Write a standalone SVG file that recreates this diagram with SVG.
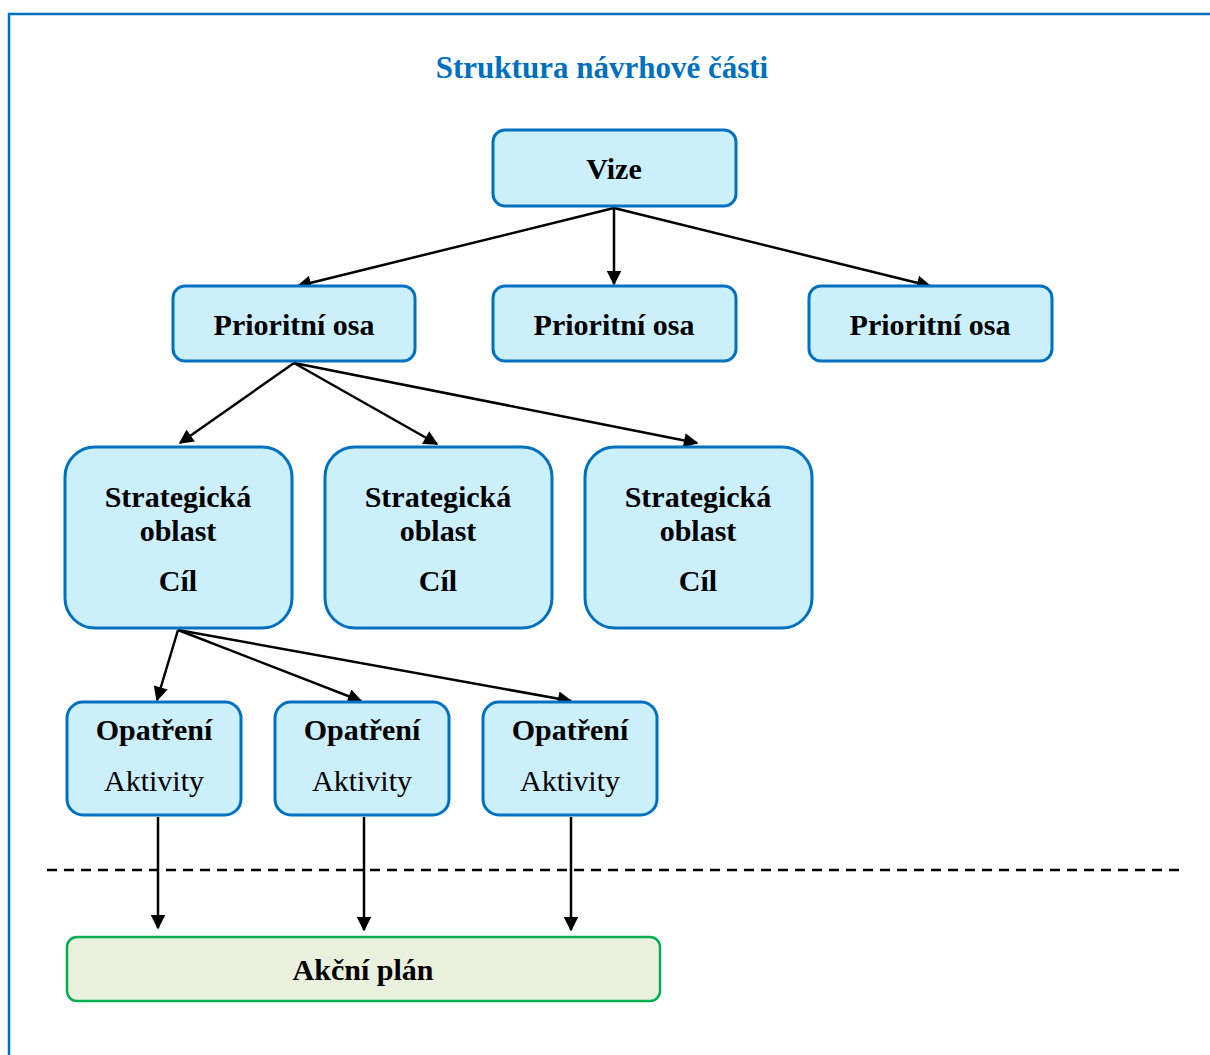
<svg xmlns="http://www.w3.org/2000/svg" width="1210" height="1055" viewBox="0 0 1210 1055">
<style>
.frame{fill:none;stroke:#0070C0;stroke-width:2.5}
.box{fill:#CCEFFC;stroke:#0070C0;stroke-width:3}
.plan{fill:#E9F0DC;stroke:#00B050;stroke-width:2.5}
.t{font-family:"Liberation Serif","DejaVu Serif",serif;font-size:30px;font-weight:bold;fill:#000;text-anchor:middle}
.r{font-weight:normal}
.title{font-family:"Liberation Serif","DejaVu Serif",serif;font-size:31px;font-weight:bold;fill:#0070C0;text-anchor:middle}
.c{stroke:#000;stroke-width:2.5;fill:none;marker-end:url(#ah)}
</style>
<defs>
<marker id="ah" viewBox="0 0 10 10" refX="9" refY="5" markerWidth="6.4" markerHeight="5.8" orient="auto" markerUnits="strokeWidth">
<path d="M0,0 L10,5 L0,10 z" fill="#000"/>
</marker>
</defs>
<rect width="1210" height="1055" fill="#fff"/>
<path class="frame" d="M9,1055 V14 H1210"/>
<text class="title" x="602" y="78">Struktura návrhové části</text>

<g id="connectors">
<line class="c" x1="614" y1="208" x2="298" y2="286"/>
<line class="c" x1="614" y1="208" x2="614" y2="284"/>
<line class="c" x1="614" y1="208" x2="930" y2="286"/>
<line class="c" x1="294" y1="363" x2="180" y2="443"/>
<line class="c" x1="294" y1="363" x2="437" y2="444"/>
<line class="c" x1="294" y1="363" x2="697" y2="443"/>
<line class="c" x1="178" y1="630" x2="157" y2="700"/>
<line class="c" x1="178" y1="630" x2="361" y2="701"/>
<line class="c" x1="178" y1="630" x2="571" y2="701"/>
<line class="c" x1="158" y1="817" x2="158" y2="928"/>
<line class="c" x1="364" y1="817" x2="364" y2="930"/>
<line class="c" x1="571" y1="817" x2="571" y2="930"/>
<line x1="47" y1="870" x2="1180" y2="870" stroke="#000" stroke-width="2.5" stroke-dasharray="10,7"/>
</g>

<g id="vize"><rect class="box" x="493" y="130" width="243" height="76" rx="12"/><text class="t" x="614" y="179">Vize</text></g>
<g id="po1"><rect class="box" x="173" y="286" width="242" height="75" rx="12"/><text class="t" x="294" y="335">Prioritní osa</text></g>
<g id="po2"><rect class="box" x="493" y="286" width="243" height="75" rx="12"/><text class="t" x="614" y="335">Prioritní osa</text></g>
<g id="po3"><rect class="box" x="809" y="286" width="243" height="75" rx="12"/><text class="t" x="930" y="335">Prioritní osa</text></g>

<g id="so1"><rect class="box" x="65" y="447" width="227" height="181" rx="30"/><text class="t" x="178" y="507">Strategická</text><text class="t" x="178" y="541">oblast</text><text class="t" x="178" y="591">Cíl</text></g>
<g id="so2"><rect class="box" x="325" y="447" width="227" height="181" rx="30"/><text class="t" x="438" y="507">Strategická</text><text class="t" x="438" y="541">oblast</text><text class="t" x="438" y="591">Cíl</text></g>
<g id="so3"><rect class="box" x="585" y="447" width="227" height="181" rx="30"/><text class="t" x="698" y="507">Strategická</text><text class="t" x="698" y="541">oblast</text><text class="t" x="698" y="591">Cíl</text></g>

<g id="op1"><rect class="box" x="67" y="702" width="174" height="113" rx="16"/><text class="t" x="154" y="740">Opatření</text><text class="t r" x="154" y="791">Aktivity</text></g>
<g id="op2"><rect class="box" x="275" y="702" width="174" height="113" rx="16"/><text class="t" x="362" y="740">Opatření</text><text class="t r" x="362" y="791">Aktivity</text></g>
<g id="op3"><rect class="box" x="483" y="702" width="174" height="113" rx="16"/><text class="t" x="570" y="740">Opatření</text><text class="t r" x="570" y="791">Aktivity</text></g>

<g id="plan"><rect class="plan" x="67" y="937" width="593" height="64" rx="10"/><text class="t" x="363" y="980">Akční plán</text></g>
</svg>
